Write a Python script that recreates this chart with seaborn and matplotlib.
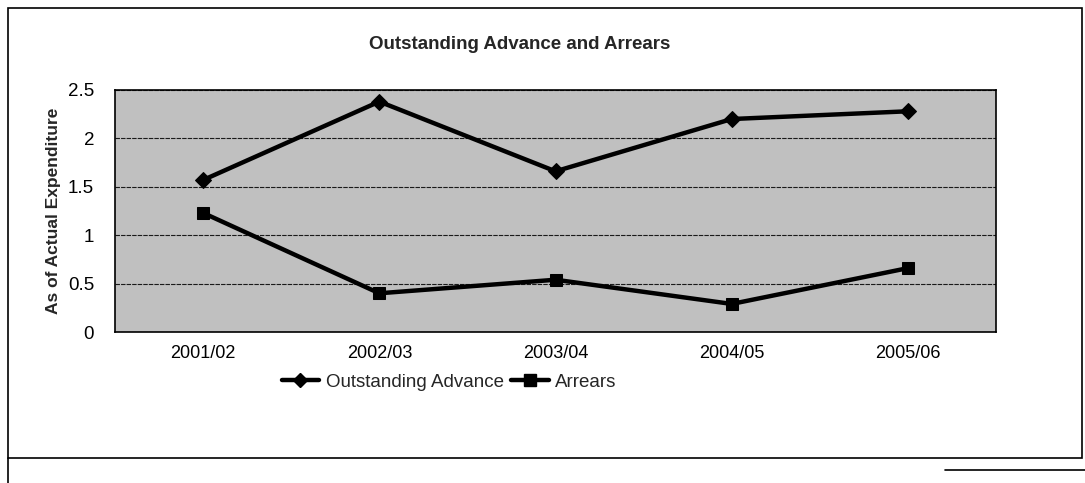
import matplotlib
matplotlib.use("Agg")
import matplotlib.pyplot as plt
import seaborn as sns
import pandas as pd
from matplotlib.lines import Line2D

years = ["2001/02", "2002/03", "2003/04", "2004/05", "2005/06"]
outstanding_advance = [1.57, 2.38, 1.66, 2.20, 2.28]
arrears = [1.23, 0.40, 0.54, 0.29, 0.66]
series_names = ["Outstanding Advance", "Arrears"]
y_ticks = [0, 0.5, 1, 1.5, 2, 2.5]
y_tick_labels = ["0", "0.5", "1", "1.5", "2", "2.5"]

df = pd.DataFrame({
    "Year": years * 2,
    "Value": outstanding_advance + arrears,
    "Series": [series_names[0]] * len(years) + [series_names[1]] * len(years),
})

sns.set_theme(style="white")
plt.rcParams["font.family"] = ["Liberation Sans", "DejaVu Sans"]

fig = plt.figure(figsize=(10.85, 4.83), dpi=100)
ax = fig.add_axes([0.106, 0.3126, 0.812, 0.5011])
ax.set_facecolor("#c0c0c0")

sns.lineplot(data=df, x="Year", y="Value", hue="Series", style="Series",
             palette={series_names[0]: "black", series_names[1]: "black"},
             markers={series_names[0]: "D", series_names[1]: "s"},
             dashes=False, linewidth=3.2, markersize=8, markeredgecolor="black",
             ax=ax, legend=False, sort=False)

ax.set_xlim(-0.5, len(years) - 0.5)
ax.set_ylim(0, 2.5)
ax.set_yticks(y_ticks)
ax.set_yticklabels(y_tick_labels)
ax.yaxis.grid(True, color="#1a1a1a", linewidth=0.8, linestyle=(0, (4, 1)))
ax.xaxis.grid(False)
ax.tick_params(axis="x", labelsize=13, colors="black", length=0, pad=9)
ax.tick_params(axis="y", labelsize=13.5, colors="black", length=0, pad=15)
ax.set_xlabel("")
ax.set_ylabel("As of Actual Expenditure", fontsize=12.5, fontweight="bold", labelpad=5)
for s in ax.spines.values():
    s.set_color("black")
    s.set_linewidth(1.2)

fig.text(0.479, 0.907, "Outstanding Advance and Arrears", ha="center", va="center",
         fontsize=13.5, fontweight="bold")

handles = [
    Line2D([], [], color="black", linewidth=3.2, marker="D", markersize=7),
    Line2D([], [], color="black", linewidth=3.2, marker="s", markersize=8),
]
fig.legend(handles, series_names, loc="center", bbox_to_anchor=(0.414, 0.209),
           ncol=2, frameon=False, fontsize=13.5, handlelength=2.0,
           handletextpad=0.35, columnspacing=0.4)

# outer frame
fig.add_artist(plt.Rectangle((0.007, 0.052), 0.99, 0.932, transform=fig.transFigure,
                             fill=False, edgecolor="black", linewidth=1.2))
fig.add_artist(Line2D([0.007, 0.007], [0.0, 0.052], transform=fig.transFigure,
                      color="black", linewidth=1.2))
fig.add_artist(Line2D([0.871, 1.0], [0.027, 0.027], transform=fig.transFigure,
                      color="black", linewidth=1.2))

fig.savefig("out.png", dpi=100)
